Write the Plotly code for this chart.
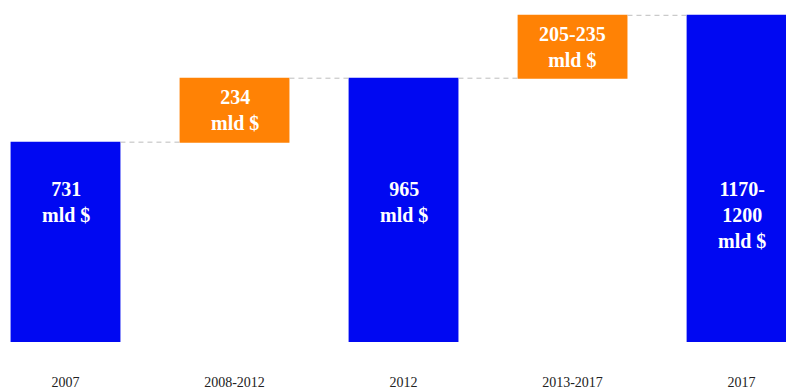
import plotly.graph_objects as go

categories = ["2007", "2008-2012", "2012", "2013-2017", "2017"]
measures = ["absolute", "relative", "total", "relative", "total"]
values = [731, 234, 0, 230, 0]
bar_labels = ["731<br>mld $", "234<br>mld $", "965<br>mld $",
              "205-235<br>mld $", "1170-<br>1200<br>mld $"]

BLUE = "#0008F2"
ORANGE = "#FF8205"
FONT = "Liberation Serif, Times New Roman, serif"

fig = go.Figure(go.Waterfall(
    x=categories,
    y=values,
    measure=measures,
    totals=dict(marker=dict(color=BLUE, line=dict(width=0))),
    increasing=dict(marker=dict(color=ORANGE, line=dict(width=0))),
    decreasing=dict(marker=dict(color=ORANGE, line=dict(width=0))),
    connector=dict(mode="between", line=dict(color="#bdbdbd", width=1, dash="5px,4px")),
    text=[""] * len(categories),
    textposition="none",
    hoverinfo="skip",
))

# annotations for bar labels (x given as category index)
cum = 0
label_y_fixed = 608
for i, (m, v, lab) in enumerate(zip(measures, values, bar_labels)):
    if m == "absolute":
        cum = v
        y, anchor = label_y_fixed, "top"
    elif m == "relative":
        y, anchor = cum + v / 2, "middle"
        cum += v
    else:
        y, anchor = label_y_fixed, "top"
    fig.add_annotation(x=i, y=y, text=lab, showarrow=False, yanchor=anchor,
                       font=dict(family=FONT, size=20, color="white", weight="bold"))

fig.update_layout(
    width=786, height=391,
    margin=dict(l=0, r=0, t=0, b=48.5),
    paper_bgcolor="white", plot_bgcolor="white",
    waterfallgap=0.35,
    showlegend=False,
    xaxis=dict(type="category", range=[-0.3876, 4.263], showgrid=False, zeroline=False, showline=False,
               automargin=False,
               ticks="outside", ticklen=27, tickcolor="rgba(0,0,0,0)",
               tickfont=dict(family=FONT, size=14, color="#222222")),
    yaxis=dict(range=[0, 1251], visible=False, showgrid=False, zeroline=False, automargin=False),
)

fig.write_html("out.html")
